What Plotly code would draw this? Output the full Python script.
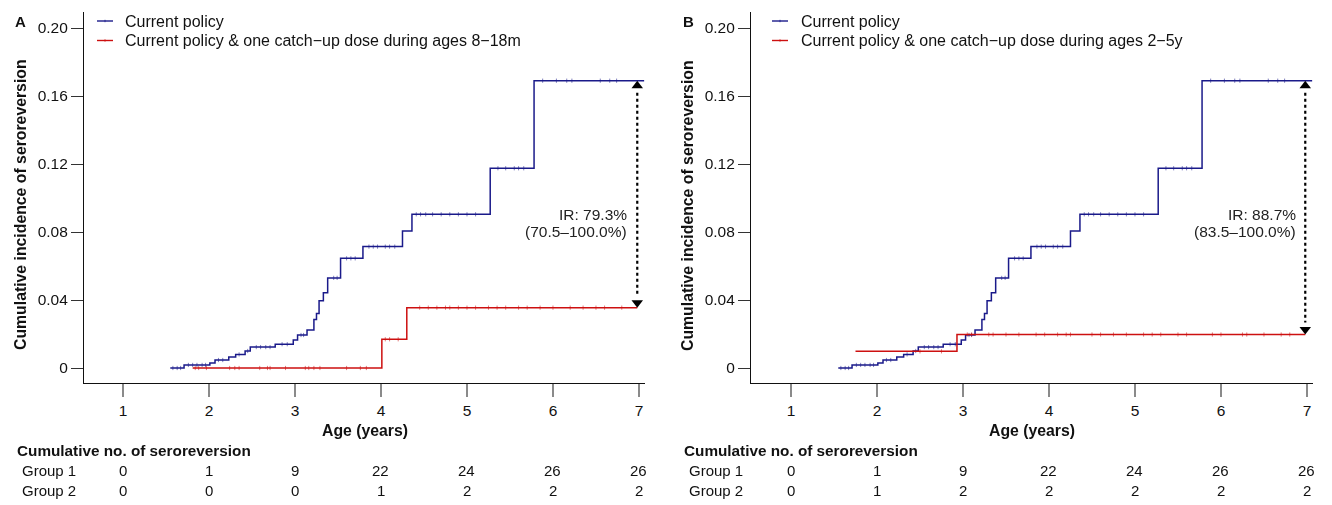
import numpy as np
import plotly.graph_objects as go

W, H = 1332, 505
FONT = "Liberation Sans, Arial, Helvetica, sans-serif"

# ---------------- data ----------------
age_ticks = [1, 2, 3, 4, 5, 6, 7]
y_tick_vals = [0, 0.04, 0.08, 0.12, 0.16, 0.20]
y_tick_text = ["0", "0.04", "0.08", "0.12", "0.16", "0.20"]

# Current policy (same curve in both panels)
cur_t = [1.55, 1.71, 2.01, 2.07, 2.23, 2.31, 2.42, 2.48, 2.77, 2.98, 3.03, 3.14, 3.22, 3.25,
         3.28, 3.33, 3.38, 3.53, 3.79, 4.25, 4.36, 5.27, 5.78, 7.06]
cur_v = [0.0, 0.0018, 0.003, 0.0047, 0.0065, 0.008, 0.010, 0.0123, 0.014, 0.0165, 0.0194,
         0.0224, 0.0286, 0.032, 0.0396, 0.0443, 0.053, 0.0645, 0.0714, 0.0806, 0.0904,
         0.1175, 0.169, 0.169]
cur_cens = [1.58, 1.63, 1.67, 1.76, 1.81, 1.86, 1.92, 1.96, 2.11, 2.16, 2.35, 2.45, 2.55,
            2.6, 2.66, 2.71, 2.85, 2.91, 3.07, 3.1, 3.45, 3.49, 3.6, 3.65, 3.7, 3.86, 3.91,
            3.96, 4.05, 4.1, 4.16, 4.41, 4.46, 4.52, 4.6, 4.7, 4.8, 4.9, 5.0, 5.1, 5.36,
            5.45, 5.55, 5.6, 5.66, 5.88, 6.04, 6.16, 6.22, 6.55, 6.66, 6.74]

# Catch-up dose 8-18m (panel A)
catA_t = [1.81, 4.01, 4.30, 6.98]
catA_v = [0.0, 0.0169, 0.0355, 0.0355]
catA_cens = [1.84, 1.88, 1.97, 2.24, 2.30, 2.35, 2.59, 2.68, 2.71, 2.89, 3.12, 3.16, 3.22,
             3.29, 3.60, 3.76, 3.83, 4.05, 4.1, 4.2, 4.45, 4.55, 4.65, 4.75, 4.8, 4.9, 5.0,
             5.1, 5.25, 5.35, 5.45, 5.6, 5.7, 5.85, 6.0, 6.2, 6.35, 6.5, 6.6, 6.8]

# Catch-up dose 2-5y (panel B)
catB_t = [1.75, 2.93, 6.98]
catB_v = [0.0098, 0.0197, 0.0197]
catB_cens = [2.5, 2.75, 3.05, 3.1, 3.3, 3.35, 3.5, 3.65, 3.85, 3.95, 4.1, 4.2, 4.25, 4.5,
             4.6, 4.75, 4.9, 5.1, 5.2, 5.3, 5.5, 5.6, 5.9, 6.0, 6.25, 6.3, 6.5, 6.7, 6.8]

series_names = ["Current policy",
                ["Current policy & one catch\u2212up dose during ages 8\u221218m",
                 "Current policy & one catch\u2212up dose during ages 2\u22125y"]]

table_g1_A = [0, 1, 9, 22, 24, 26, 26]
table_g2_A = [0, 0, 0, 1, 2, 2, 2]
table_g1_B = [0, 1, 9, 22, 24, 26, 26]
table_g2_B = [0, 1, 2, 2, 2, 2, 2]

ir_line1 = ["IR: 79.3%", "IR: 88.7%"]
ir_line2 = ["(70.5\u2013100.0%)", "(83.5\u2013100.0%)"]
ir_y = [0.0905, 0.0802]
panel_letters = ["A", "B"]

BLUE = "#1a1a8a"
RED = "#cd1010"

# ---------------- layout helpers ----------------
def px(x):
    return x / W

def py(y):
    return 1 - y / H

panels = [
    dict(axl=84, axr=645, xr=[0.5465, 7.070], cat_t=catA_t, cat_v=catA_v, cat_c=catA_cens,
         g1=table_g1_A, g2=table_g2_A, leg_x0=97, leg_x1=113, leg_tx=123, ir_x=6.88, arr_x=6.98),
    dict(axl=751, axr=1313, xr=[0.535, 7.070], cat_t=catB_t, cat_v=catB_v, cat_c=catB_cens,
         g1=table_g1_B, g2=table_g2_B, leg_x0=772, leg_x1=788, leg_tx=799, ir_x=6.895, arr_x=6.98),
]
Y_TOP, Y_BOT = 12, 383
yr = [-(383 - 368) / 1700, (368 - 12) / 1700]
PX_PER_Y = 1700.0


def step_value(t_arr, v_arr, t):
    idx = np.searchsorted(np.asarray(t_arr), t, side="right") - 1
    idx = np.clip(idx, 0, len(v_arr) - 1)
    return np.asarray(v_arr)[idx]


fig = go.Figure()
annotations = []
shapes = []
layout = dict(width=W, height=H, margin=dict(l=0, r=0, t=0, b=0),
              plot_bgcolor="white", paper_bgcolor="white", showlegend=False,
              font=dict(family=FONT, size=15, color="#111"))

for i, p in enumerate(panels):
    xa = "x" if i == 0 else "x2"
    ya = "y" if i == 0 else "y2"
    xkey = "xaxis" if i == 0 else "xaxis2"
    ykey = "yaxis" if i == 0 else "yaxis2"
    layout[xkey] = dict(domain=[px(p["axl"]), px(p["axr"])], range=p["xr"], anchor=ya,
                        tickvals=age_ticks, ticks="outside", ticklen=13, tickwidth=1.5,
                        tickcolor="#8a8a8a", showline=True, linecolor="#111", linewidth=1.2,
                        showgrid=False, zeroline=False, tickfont=dict(size=15.5, color="#111"),
                        fixedrange=True)
    layout[ykey] = dict(domain=[py(Y_BOT), py(Y_TOP)], range=yr, anchor=xa,
                        tickvals=y_tick_vals, ticktext=y_tick_text, ticks="outside",
                        ticklen=12, tickwidth=1.2, tickcolor="#333", showline=True,
                        linecolor="#111", linewidth=1.2, showgrid=False, zeroline=False,
                        tickfont=dict(size=15.5, color="#111"), fixedrange=True)

    # curves
    curves = [(cur_t, cur_v, cur_cens, BLUE), (p["cat_t"], p["cat_v"], p["cat_c"], RED)]
    for t, v, cens, col in curves:
        fig.add_trace(go.Scatter(x=t, y=v, mode="lines", line=dict(color=col, width=1.5, shape="hv"),
                                 xaxis=xa, yaxis=ya, hoverinfo="skip"))
        cv = step_value(t, v, np.asarray(cens))
        fig.add_trace(go.Scatter(x=cens, y=cv, mode="markers",
                                 marker=dict(symbol="line-ns", size=3,
                                             line=dict(color=col, width=0.8)),
                                 opacity=0.7, xaxis=xa, yaxis=ya, hoverinfo="skip"))

    # arrow between final values
    top = cur_v[-1]
    bot = p["cat_v"][-1]
    tri = 10
    r = tri / 2 / PX_PER_Y
    shapes.append(dict(type="line", xref=xa, yref=ya, x0=p["arr_x"], x1=p["arr_x"],
                       y0=top - 2.4 * r, y1=bot + 2.4 * r,
                       line=dict(color="black", width=2.2, dash="dot")))
    fig.add_trace(go.Scatter(x=[p["arr_x"], p["arr_x"]], y=[top - r, bot + r], mode="markers",
                             marker=dict(symbol=["triangle-up", "triangle-down"], size=tri,
                                         color="black", line=dict(width=0)),
                             xaxis=xa, yaxis=ya, hoverinfo="skip"))
    for txt, yy in [(ir_line1[i], ir_y[0]), (ir_line2[i], ir_y[1])]:
        annotations.append(dict(text=txt, xref=xa, yref=ya, x=p["ir_x"], y=yy,
                                xanchor="right", yanchor="middle", align="right", showarrow=False,
                                font=dict(size=15.5, color="#222")))

    # panel letter
    annotations.append(dict(text="<b>%s</b>" % panel_letters[i], xref="paper", yref="paper",
                            x=px(p["axl"] - 63), y=py(21), xanchor="center", yanchor="middle",
                            showarrow=False, font=dict(size=15, color="#111")))
    # y title
    annotations.append(dict(text="<b>Cumulative incidence of seroreversion</b>", xref="paper",
                            yref="paper", x=px(p["axl"] - 64), y=py(205), textangle=-90,
                            xanchor="center", yanchor="middle", showarrow=False,
                            font=dict(size=15.8, color="#111")))
    # x title
    annotations.append(dict(text="<b>Age (years)</b>", xref="paper", yref="paper",
                            x=px((p["axl"] + p["axr"]) / 2), y=py(430), xanchor="center",
                            yanchor="middle", showarrow=False, font=dict(size=15.8, color="#111")))
    # legend
    for k, (col, yy) in enumerate([(BLUE, 21), (RED, 40.5)]):
        name = series_names[0] if k == 0 else series_names[1][i]
        shapes.append(dict(type="line", xref="paper", yref="paper", x0=px(p["leg_x0"]),
                           x1=px(p["leg_x1"]), y0=py(yy), y1=py(yy), line=dict(color=col, width=1.4)))
        mid = (p["leg_x0"] + p["leg_x1"]) / 2
        shapes.append(dict(type="line", xref="paper", yref="paper", x0=px(mid), x1=px(mid),
                           y0=py(yy - 1.2), y1=py(yy + 1.2), line=dict(color=col, width=0.8)))
        annotations.append(dict(text=name, xref="paper", yref="paper", x=px(p["leg_tx"]),
                                y=py(yy), xanchor="left", yanchor="middle", showarrow=False,
                                font=dict(size=16, color="#111")))
    # risk table
    annotations.append(dict(text="<b>Cumulative no. of seroreversion</b>", xref="paper",
                            yref="paper", x=px(p["axl"] - 69), y=py(450), xanchor="left",
                            yanchor="middle", showarrow=False, font=dict(size=15.3, color="#111")))
    for rlab, vals, yy in [("Group 1", p["g1"], 470), ("Group 2", p["g2"], 490)]:
        annotations.append(dict(text=rlab, xref="paper", yref="paper", x=px(p["axl"] - 64),
                                y=py(yy), xanchor="left", yanchor="middle", showarrow=False,
                                font=dict(size=15, color="#111")))
        for a, v in zip(age_ticks, vals):
            annotations.append(dict(text=str(v), xref=xa, yref="paper", x=a, y=py(yy),
                                    xanchor="center", yanchor="middle", showarrow=False,
                                    font=dict(size=15, color="#111")))

layout["annotations"] = annotations
layout["shapes"] = shapes
fig.update_layout(**layout)
fig.write_html("out.html")
